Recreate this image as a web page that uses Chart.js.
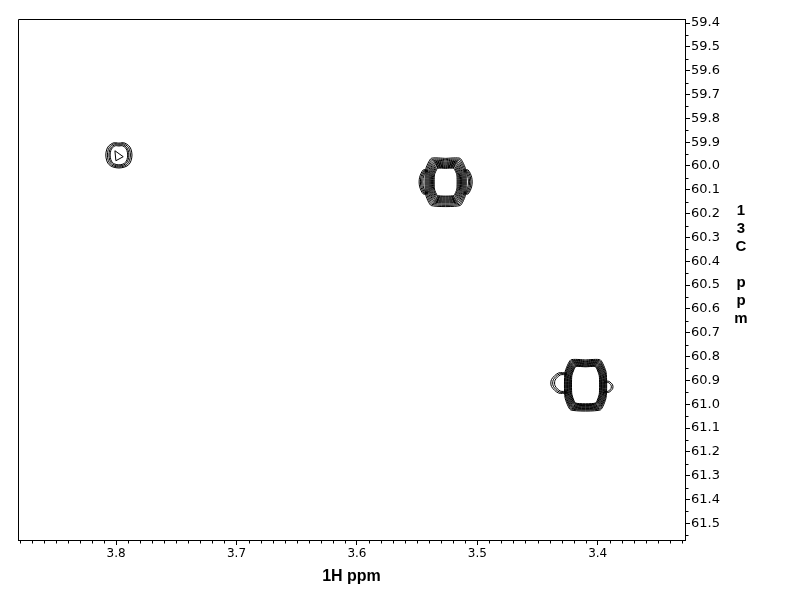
<!DOCTYPE html>
<html>
<head>
<meta charset="utf-8">
<script src="https://cdn.jsdelivr.net/npm/chart.js@4.4.1/dist/chart.umd.min.js"></script>
<style>
  html, body { margin: 0; padding: 0; background: #fff; }
  #wrap { position: relative; width: 792px; height: 612px; }
  #yTitle { position: absolute; left: 733px; top: 201px; width: 16px; text-align: center;
    font: bold 15px "Liberation Sans", Arial, sans-serif; line-height: 18px; color: #000; }
</style>
</head>
<body>
<div id="wrap">
  <canvas id="c" width="792" height="612"></canvas>
  <div id="yTitle">1<br>3<br>C<br>&nbsp;<br>p<br>p<br>m</div>
</div>
<script>
// axis ranges (ppm) - both run backwards like a normal NMR plot
const hRange = [3.3275, 3.8815]
const cRange = [59.383, 61.570]
const hTickLabels = ['3.4', '3.5', '3.6', '3.7', '3.8']
const cTickLabels = ['59.4', '59.5', '59.6', '59.7', '59.8', '59.9', '60.0', '60.1', '60.2', '60.3', '60.4',
  '60.5', '60.6', '60.7', '60.8', '60.9', '61.0', '61.1', '61.2', '61.3', '61.4', '61.5']

// cross peaks: centres, then half-widths of each contour level (outermost first)
const peakH = [3.7977, 3.5263, 3.4101]
const peakC = [59.954, 60.067, 60.919]
const levelHalfH = [
  [0.0100, 0.0088, 0.0076, 0.0067],
  [0.0167, 0.0159, 0.0151, 0.0143, 0.0135, 0.0128, 0.0121, 0.0114, 0.0107, 0.0100, 0.0093],
  [0.0171, 0.0165, 0.0159, 0.0153, 0.0147, 0.0141, 0.0135, 0.0129, 0.0124, 0.0119, 0.0114]
]
const levelHalfC = [
  [0.050, 0.046, 0.042, 0.038],
  [0.099, 0.094, 0.089, 0.084, 0.080, 0.076, 0.072, 0.068, 0.064, 0.060, 0.057],
  [0.105, 0.101, 0.098, 0.095, 0.092, 0.089, 0.086, 0.083, 0.080, 0.078, 0.076]
]

// shoulders on the big peaks (+1 = higher ppm side, i.e. left)
const lobePeak = [1, 1, 2, 2]
const lobeDir = [1, -1, 1, -1]
const lobeC = [60.067, 60.067, 60.911, 60.927]
const lobeReach = [
  [0.0217, 0.0207, 0.0197, 0.0187],
  [0.0217, 0.0207, 0.0197, 0.0187],
  [0.0283, 0.0268, 0.0253],
  [0.0225, 0.0212]
]
const lobeHalfC = [
  [0.050, 0.047, 0.044, 0.041],
  [0.050, 0.047, 0.044, 0.041],
  [0.042, 0.038, 0.034],
  [0.023, 0.019]
]

// odd little triangle inside the 3.80 ppm peak
const triH = [3.8010, 3.7941, 3.8002, 3.8010]
const triC = [59.936, 59.961, 59.978, 59.936]

// contour outline shape (octagon corners, rounding), per peak
const cornerA = [0.5, 0.72, 0.72]
const cornerB = [0.5, 0.52, 0.5]
const rounding = [0.4, 0.18, 0.18]

function octagon(cx, cy, dx, dy, a, b) {
  // starts mid top edge so the closing point sits on a flat stretch
  const u = [0, a, 1, 1, a, -a, -1, -1, -a, 0]
  const v = [-1, -1, -b, b, 1, 1, b, -b, -1, -1]
  return u.map((p, i) => ({ x: cx + p * dx, y: cy + v[i] * dy }))
}

function lobeArc(k, r) {
  const p = lobePeak[k]
  const base = levelHalfH[p][0] * 0.9
  const reach = lobeReach[k][r]
  const h = lobeHalfC[k][r]
  const u = [0, 0.55, 1, 1, 0.55, 0]
  const v = [-1, -1, -0.35, 0.35, 1, 1]
  return u.map((t, i) => ({
    x: peakH[p] + lobeDir[k] * (base + t * (reach - base)),
    y: lobeC[k] + v[i] * h
  }))
}

const line = (pts, tension) => ({
  data: pts, showLine: true, borderColor: '#000', borderWidth: 1,
  pointRadius: 0, fill: false, tension: tension || 0
})

const datasets = []
peakH.forEach((h, p) => {
  levelHalfH[p].forEach((dx, l) => {
    datasets.push(line(octagon(h, peakC[p], dx, levelHalfC[p][l], cornerA[p], cornerB[p]), rounding[p]))
  })
})
lobePeak.forEach((p, k) => {
  lobeReach[k].forEach((_, r) => datasets.push(line(lobeArc(k, r), 0.3)))
})
datasets.push(line(triH.map((h, i) => ({ x: h, y: triC[i] }))))

// box round the plot plus the short minor ticks
const frame = {
  id: 'frame',
  afterDraw(chart) {
    const { ctx, chartArea: a, scales: { x, y } } = chart
    const L = Math.round(a.left) + 0.5, R = Math.round(a.right) + 0.5
    const T = Math.round(a.top) + 0.5, B = Math.round(a.bottom) + 0.5
    ctx.save()
    ctx.strokeStyle = '#000'
    ctx.lineWidth = 1
    ctx.beginPath()
    ctx.moveTo(R, T); ctx.lineTo(L, T); ctx.lineTo(L, B)
    for (let i = 333; i <= 388; i++) {
      if (i % 10 === 0) continue
      const px = Math.round(x.getPixelForValue(i / 100)) + 0.5
      ctx.moveTo(px, B); ctx.lineTo(px, B + 3)
    }
    for (let i = 1188; i <= 1231; i++) {
      if (i % 2 === 0) continue
      const py = Math.round(y.getPixelForValue(i * 0.05)) + 0.5
      ctx.moveTo(R, py); ctx.lineTo(R + 3, py)
    }
    ctx.stroke()
    ctx.restore()
  }
}

const tickFont = '"DejaVu Sans", Verdana, sans-serif'

new Chart(document.getElementById('c'), {
  type: 'scatter',
  data: { datasets },
  options: {
    responsive: false,
    animation: false,
    events: [],
    layout: { padding: { left: 18, top: 19, right: 0, bottom: 0 } },
    plugins: { legend: { display: false }, tooltip: { enabled: false } },
    scales: {
      x: {
        type: 'linear',
        reverse: true,
        min: hRange[0],
        max: hRange[1],
        afterFit: s => { s.height = 72 },
        afterBuildTicks: s => { s.ticks = hTickLabels.map(t => ({ value: parseFloat(t) })) },
        ticks: {
          autoSkip: false, maxRotation: 0, padding: 2, color: '#000',
          font: { family: tickFont, size: 12 },
          callback: v => v.toFixed(1)
        },
        grid: { drawOnChartArea: false, tickLength: 5, tickColor: '#000' },
        border: { color: '#000' },
        title: {
          display: true, text: '1H ppm', color: '#000',
          font: { family: '"Liberation Sans", Arial, sans-serif', size: 16, weight: 'bold' },
          padding: { top: 0, bottom: 26 }
        }
      },
      y: {
        type: 'linear',
        position: 'right',
        reverse: true,
        min: cRange[0],
        max: cRange[1],
        afterFit: s => { s.width = 107 },
        afterBuildTicks: s => { s.ticks = cTickLabels.map(t => ({ value: parseFloat(t) })) },
        ticks: {
          autoSkip: false, padding: 1, color: '#000',
          font: { family: tickFont, size: 13 },
          callback: v => v.toFixed(1)
        },
        grid: { drawOnChartArea: false, tickLength: 5, tickColor: '#000' },
        border: { color: '#000' }
      }
    }
  },
  plugins: [frame]
})
</script>
</body>
</html>
